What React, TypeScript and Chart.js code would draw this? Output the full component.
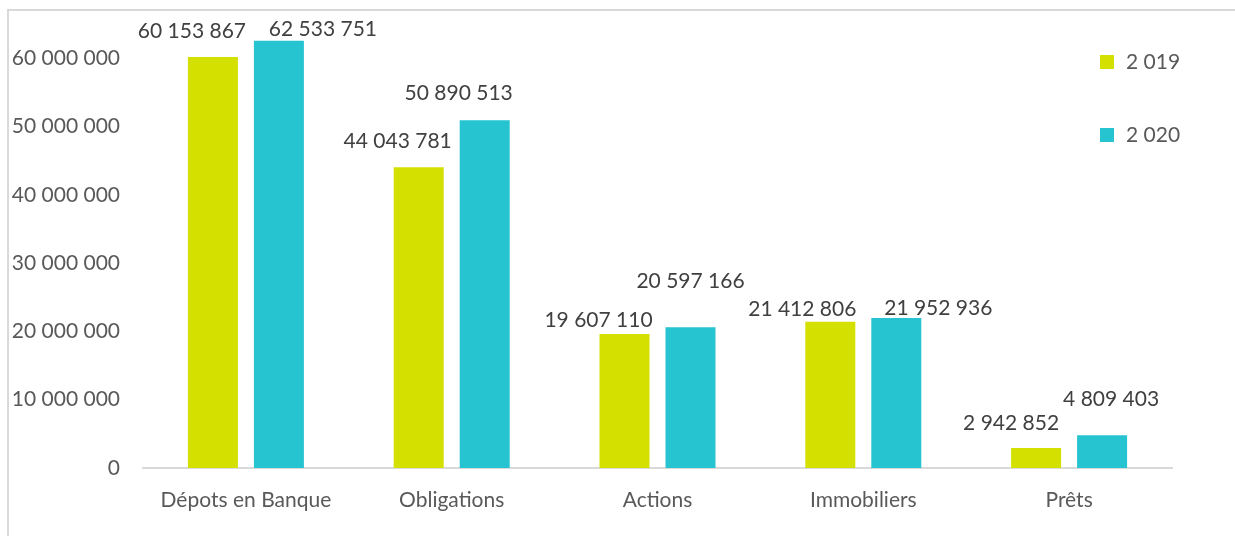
import React, { useEffect, useRef } from "react";
import { Chart, registerables } from "chart.js";

Chart.register(...registerables);

const categories = ["Dépots en Banque", "Obligations", "Actions", "Immobiliers", "Prêts"];
const seriesNames = ["2 019", "2 020"];
const values2019 = [60153867, 44043781, 19607110, 21412806, 2942852];
const values2020 = [62533751, 50890513, 20597166, 21952936, 4809403];
const yTickValues = [0, 10000000, 20000000, 30000000, 40000000, 50000000, 60000000];

// label placement relative to bar top-centre (pixels)
const labelDx2019 = [-21, -21, -26, -28, -25];
const labelDy2019 = [-26, -26, -14, -12, -25];
const labelDx2020 = [44, -26, 0, 42, 9];
const labelDy2020 = [-12, -27, -46, -10, -36];

const COLOR_2019 = "#D4E000";
const COLOR_2020 = "#26C3D1";
const FONT_FAMILY = "Lato, 'Open Sans', sans-serif";
const FONT_SIZE = 21;

const fmt = (n: number) => String(Math.round(n)).replace(/\B(?=(\d{3})+(?!\d))/g, " ");

const labelPlugin = {
  id: "barLabels",
  afterDatasetsDraw(chart: any) {
    const ctx = chart.ctx;
    ctx.save();
    ctx.font = `${FONT_SIZE}px ${FONT_FAMILY}`;
    ctx.fillStyle = "#404040";
    ctx.textAlign = "center";
    ctx.textBaseline = "middle";
    const offsets = [
      [labelDx2019, labelDy2019],
      [labelDx2020, labelDy2020],
    ];
    chart.data.datasets.forEach((ds: any, di: number) => {
      const meta = chart.getDatasetMeta(di);
      meta.data.forEach((el: any, i: number) => {
        const [dx, dy] = offsets[di];
        ctx.fillText(fmt(ds.data[i]), el.x + dx[i], el.y + dy[i]);
      });
    });
    ctx.restore();
  },
};

const legendPlugin = {
  id: "sideLegend",
  afterDraw(chart: any) {
    const ctx = chart.ctx;
    ctx.save();
    ctx.font = `${FONT_SIZE}px ${FONT_FAMILY}`;
    ctx.textAlign = "left";
    ctx.textBaseline = "middle";
    const x0 = chart.chartArea.right - 72;
    const y0 = 62;
    const step = 73;
    chart.data.datasets.forEach((ds: any, i: number) => {
      const cy = y0 + i * step;
      ctx.fillStyle = ds.backgroundColor;
      ctx.fillRect(x0, cy - 7, 14, 14);
      ctx.fillStyle = "#595959";
      ctx.fillText(ds.label, x0 + 26, cy);
    });
    ctx.restore();
  },
};

export default function App() {
  const ref = useRef<HTMLCanvasElement>(null);
  useEffect(() => {
    if (!ref.current) return;
    const chart = new Chart(ref.current, {
      type: "bar",
      data: {
        labels: categories,
        datasets: [
          { label: seriesNames[0], data: values2019, backgroundColor: COLOR_2019 },
          { label: seriesNames[1], data: values2020, backgroundColor: COLOR_2020 },
        ],
      },
      options: {
        animation: false,
        responsive: false,
        layout: { padding: { top: 20, right: 63, bottom: 0, left: 0 } },
        datasets: {
          bar: { categoryPercentage: 0.6414, barPercentage: 0.7576 },
        },
        plugins: {
          legend: { display: false },
          tooltip: { enabled: false },
        },
        scales: {
          x: {
            grid: { display: false, drawTicks: false },
            border: { display: true, color: "#D9D9D9", width: 2 },
            ticks: {
              color: "#595959",
              font: { family: FONT_FAMILY, size: FONT_SIZE },
              padding: 20,
              maxRotation: 0,
            },
            afterFit(scale: any) {
              scale.height = 68;
            },
          },
          y: {
            min: 0,
            max: 63300000,
            grid: { display: false, drawTicks: false },
            border: { display: false },
            ticks: {
              color: "#595959",
              font: { family: FONT_FAMILY, size: FONT_SIZE },
              padding: 23,
              callback: (v: any) => fmt(Number(v)),
            },
            afterBuildTicks(scale: any) {
              scale.ticks = yTickValues.map((v) => ({ value: v }));
            },
            afterFit(scale: any) {
              scale.width = 143;
            },
          },
        },
      },
      plugins: [labelPlugin, legendPlugin],
    });
    return () => chart.destroy();
  }, []);

  return (
    <>
      <div
        style={{
          position: "fixed",
          left: 7,
          top: 9,
          width: 1240,
          height: 540,
          borderLeft: "2px solid #D9D9D9",
          borderTop: "2px solid #D9D9D9",
          boxSizing: "border-box",
        }}
      />
      <canvas
        ref={ref}
        width={1235}
        height={536}
        style={{ position: "fixed", left: 0, top: 0, width: 1235, height: 536 }}
      />
    </>
  );
}
